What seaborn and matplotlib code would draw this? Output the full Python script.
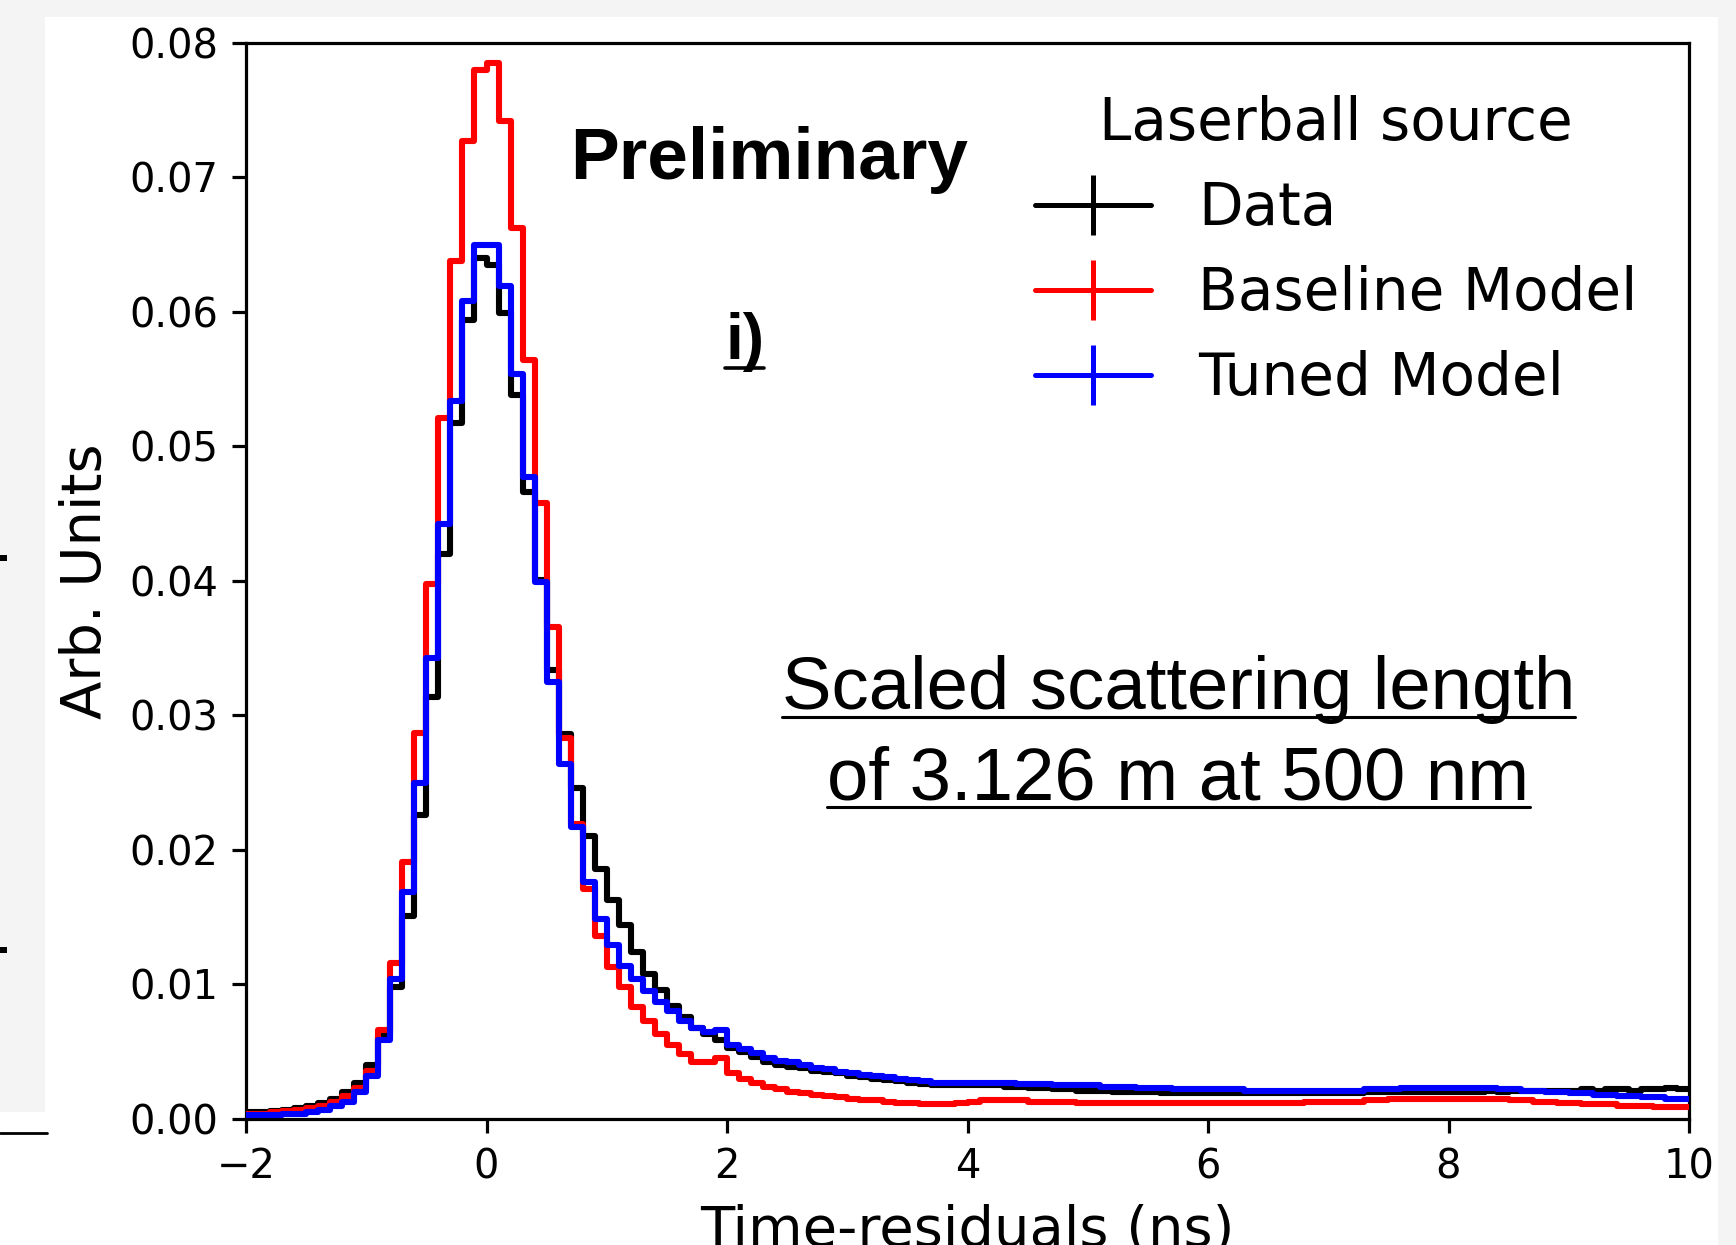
import numpy as np
import pandas as pd
import seaborn as sns
import matplotlib.pyplot as plt
from matplotlib.lines import Line2D
from matplotlib.patches import Rectangle

# histogram binning: 0.1 ns bins between -2 and 10 ns
t_min, t_max, n_bins = -2.0, 10.0, 120
edges = np.linspace(t_min, t_max, n_bins + 1)
centres = 0.5 * (edges[:-1] + edges[1:])

# bin contents (arb. units)
data_vals = [
    0.0005, 0.0005, 0.0006, 0.0007, 0.0008, 0.0010, 0.0012, 0.0015, 0.0020, 0.0027,
    0.0040, 0.0062, 0.0098, 0.0151, 0.0226, 0.0314, 0.0420, 0.0517, 0.0594, 0.0640,
    0.0635, 0.0599, 0.0538, 0.0466, 0.0401, 0.0334, 0.0286, 0.0246, 0.0210, 0.0186,
    0.0163, 0.0144, 0.0124, 0.0108, 0.0096, 0.0084, 0.0076, 0.0068, 0.0063, 0.0059,
    0.0053, 0.0050, 0.0046, 0.0042, 0.0040, 0.0039, 0.0038, 0.0036, 0.0035, 0.0034,
    0.0032, 0.0031, 0.0030, 0.0029, 0.0028, 0.0027, 0.0026, 0.0025, 0.0025, 0.0025,
    0.0025, 0.0025, 0.0025, 0.0024, 0.0024, 0.0023, 0.0023, 0.0022, 0.0022, 0.0021,
    0.0021, 0.0021, 0.0020, 0.0020, 0.0020, 0.0020, 0.0019, 0.0019, 0.0019, 0.0019,
    0.0019, 0.0019, 0.0019, 0.0019, 0.0019, 0.0019, 0.0019, 0.0019, 0.0019, 0.0019,
    0.0019, 0.0019, 0.0019, 0.0020, 0.0020, 0.0020, 0.0020, 0.0020, 0.0020, 0.0020,
    0.0020, 0.0020, 0.0020, 0.0021, 0.0020, 0.0021, 0.0021, 0.0021, 0.0021, 0.0021,
    0.0021, 0.0022, 0.0021, 0.0022, 0.0022, 0.0021, 0.0022, 0.0022, 0.0023, 0.0022,
]
baseline_vals = [
    0.0004, 0.0004, 0.0005, 0.0006, 0.0007, 0.0008, 0.0010, 0.0013, 0.0017, 0.0023,
    0.0036, 0.0066, 0.0116, 0.0191, 0.0287, 0.0398, 0.0521, 0.0638, 0.0727, 0.0780,
    0.0785, 0.0742, 0.0662, 0.0564, 0.0458, 0.0366, 0.0283, 0.0219, 0.0171, 0.0136,
    0.0113, 0.0098, 0.0083, 0.0073, 0.0063, 0.0055, 0.0048, 0.0042, 0.0042, 0.0045,
    0.0034, 0.0030, 0.0027, 0.0024, 0.0022, 0.0020, 0.0019, 0.0018, 0.0017, 0.0016,
    0.0015, 0.0014, 0.0014, 0.0013, 0.0012, 0.0012, 0.0011, 0.0011, 0.0011, 0.0012,
    0.0013, 0.0014, 0.0014, 0.0014, 0.0014, 0.0013, 0.0013, 0.0013, 0.0013, 0.0012,
    0.0012, 0.0012, 0.0012, 0.0012, 0.0012, 0.0012, 0.0012, 0.0012, 0.0012, 0.0012,
    0.0012, 0.0012, 0.0012, 0.0012, 0.0012, 0.0012, 0.0012, 0.0012, 0.0013, 0.0013,
    0.0013, 0.0013, 0.0013, 0.0014, 0.0014, 0.0015, 0.0015, 0.0015, 0.0015, 0.0015,
    0.0015, 0.0015, 0.0015, 0.0015, 0.0015, 0.0014, 0.0014, 0.0013, 0.0013, 0.0012,
    0.0012, 0.0011, 0.0011, 0.0011, 0.0010, 0.0010, 0.0010, 0.0009, 0.0009, 0.0009,
]
tuned_vals = [
    0.0003, 0.0003, 0.0003, 0.0004, 0.0004, 0.0005, 0.0007, 0.0010, 0.0013, 0.0020,
    0.0032, 0.0059, 0.0104, 0.0169, 0.0250, 0.0343, 0.0442, 0.0534, 0.0608, 0.0650,
    0.0650, 0.0619, 0.0554, 0.0477, 0.0399, 0.0325, 0.0264, 0.0217, 0.0176, 0.0149,
    0.0129, 0.0114, 0.0104, 0.0095, 0.0087, 0.0080, 0.0073, 0.0068, 0.0065, 0.0066,
    0.0055, 0.0052, 0.0049, 0.0045, 0.0043, 0.0042, 0.0040, 0.0038, 0.0037, 0.0035,
    0.0034, 0.0033, 0.0032, 0.0031, 0.0030, 0.0029, 0.0028, 0.0027, 0.0027, 0.0027,
    0.0027, 0.0027, 0.0027, 0.0027, 0.0026, 0.0026, 0.0026, 0.0025, 0.0025, 0.0025,
    0.0025, 0.0024, 0.0024, 0.0024, 0.0023, 0.0023, 0.0023, 0.0022, 0.0022, 0.0022,
    0.0022, 0.0022, 0.0022, 0.0021, 0.0021, 0.0021, 0.0021, 0.0021, 0.0021, 0.0021,
    0.0021, 0.0021, 0.0021, 0.0022, 0.0022, 0.0022, 0.0023, 0.0023, 0.0023, 0.0023,
    0.0023, 0.0023, 0.0023, 0.0023, 0.0022, 0.0022, 0.0021, 0.0021, 0.0020, 0.0020,
    0.0019, 0.0019, 0.0018, 0.0018, 0.0017, 0.0017, 0.0016, 0.0016, 0.0015, 0.0015,
]

series_names = ["Data", "Baseline Model", "Tuned Model"]
series_colors = ["black", "red", "blue"]
x_ticks = [-2, 0, 2, 4, 6, 8, 10]
y_ticks = [0.00, 0.01, 0.02, 0.03, 0.04, 0.05, 0.06, 0.07, 0.08]

df = pd.DataFrame({
    "t": np.tile(centres, 3),
    "w": data_vals + baseline_vals + tuned_vals,
    "series": np.repeat(series_names, n_bins),
})

sns.set_style("ticks")
plt.rcParams["font.family"] = ["DejaVu Sans"]
for key in ["text.color", "axes.labelcolor", "xtick.color", "ytick.color", "axes.edgecolor"]:
    plt.rcParams[key] = "black"

W, H = 1736, 1245
fig = plt.figure(figsize=(W / 100, H / 100), dpi=100)
fig.patch.set_facecolor("#f4f4f4")

# white slide panel + leftovers of the neighbouring slide on the left edge
fig.add_artist(Rectangle((45 / W, 0), (1718 - 45) / W, (H - 17) / H,
                         transform=fig.transFigure, facecolor="white", edgecolor="none", zorder=-5))
fig.add_artist(Rectangle((0, 0), 46 / W, (H - 1112) / H,
                         transform=fig.transFigure, facecolor="white", edgecolor="none", zorder=-5))
fig.add_artist(Line2D([0, 47 / W], [(H - 1133) / H] * 2, transform=fig.transFigure,
                      color="black", lw=2))
for ym in [558, 950]:
    fig.add_artist(Rectangle((0, (H - ym - 3) / H), 7 / W, 6 / H, transform=fig.transFigure,
                             facecolor="black", edgecolor="none"))

ax = fig.add_axes([246 / W, (H - 1119) / H, (1689 - 246) / W, (1119 - 42.7) / H])
ax.set_facecolor("white")

for name, col, z in zip(series_names, series_colors, [2, 3, 4]):
    sub = df[df["series"] == name]
    sns.histplot(data=sub, x="t", weights="w", bins=n_bins, binrange=(t_min, t_max),
                 element="step", fill=False, color=col, linewidth=4.4, ax=ax, zorder=z)

ax.set_xlim(t_min, t_max)
ax.set_ylim(0, 0.08)
ax.set_xticks(x_ticks)
ax.set_yticks(y_ticks)
ax.set_yticklabels([f"{v:.2f}" for v in y_ticks])
ax.tick_params(direction="out", length=10.1, width=2.3, labelsize=28.8, pad=10.1,
               color="black", labelcolor="black")
for s in ax.spines.values():
    s.set_linewidth(2.3)
    s.set_color("black")
    s.set_visible(True)
ax.set_xlabel("Time-residuals (ns)", fontsize=40.3, labelpad=11.5, color="black")
ax.set_ylabel("Arb. Units", fontsize=40.3, labelpad=11.5, color="black")

# legend with errorbar-like crosses
handles = [Line2D([], [], color=c, lw=3.6, marker="|", markersize=43, markeredgewidth=3.6)
           for c in series_colors]
leg = ax.legend(handles, series_names, title="Laserball source", fontsize=41.8,
                title_fontsize=41.8, frameon=False, loc="upper left",
                bbox_to_anchor=(983 / W, (H - 43) / H), bbox_transform=fig.transFigure,
                handlelength=2.0, handletextpad=0.8, labelspacing=0.48, borderpad=0.4)
for t in leg.get_texts():
    t.set_color("black")
leg.get_title().set_color("black")

# annotations
fig.text(570 / W, (H - 179) / H, "Preliminary", fontsize=52.6, fontweight="bold",
         family="Liberation Sans", ha="left", va="baseline", color="black")
t_i = fig.text(725 / W, (H - 359) / H, "i)", fontsize=46, fontweight="bold",
               family="Liberation Sans", ha="left", va="baseline", color="black")
t_1 = fig.text(1178.5 / W, (H - 708.5) / H, "Scaled scattering length", fontsize=53.6,
               family="Liberation Sans", ha="center", va="baseline", color="black")
t_2 = fig.text(1178.5 / W, (H - 799) / H, "of 3.126 m at 500 nm", fontsize=53.6,
               family="Liberation Sans", ha="center", va="baseline", color="black")

fig.canvas.draw()
for txt, off, lw in [(t_i, 9, 2.6), (t_1, 8, 2.2), (t_2, 8, 2.2)]:
    bb = txt.get_window_extent()
    yb = txt.get_position()[1] * H - off
    fig.add_artist(Line2D([bb.x0 / W, bb.x1 / W], [yb / H] * 2, transform=fig.transFigure,
                          color="black", lw=lw))

fig.savefig("out.png", dpi=100, facecolor=fig.get_facecolor())
